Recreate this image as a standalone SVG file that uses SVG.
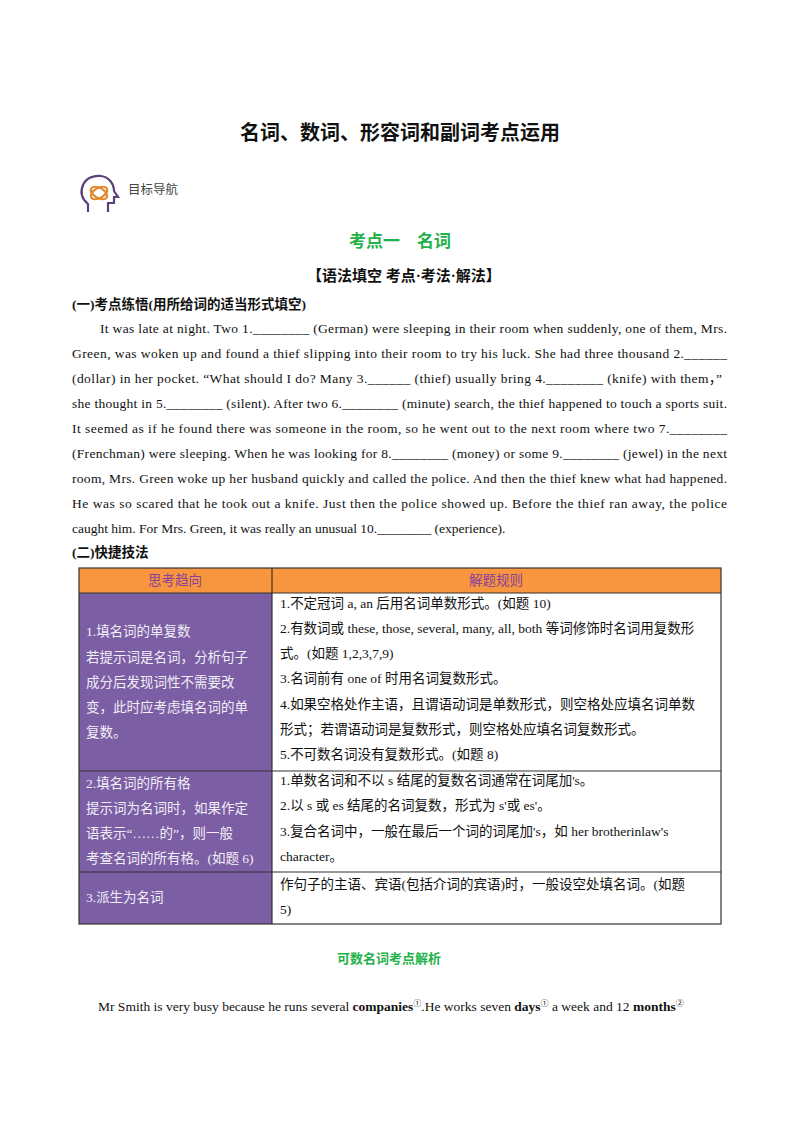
<svg xmlns="http://www.w3.org/2000/svg" width="800" height="1132" viewBox="0 0 800 1132">
<style>
.t{font-family:"Liberation Serif","Noto Sans CJK SC",serif;font-size:13.5px;fill:#111}
.w{font-family:"Liberation Serif","Noto Sans CJK SC",serif;font-size:13.5px;fill:#f2eef8}
.b{font-weight:bold}
.g{fill:#1fb24a;font-family:"Noto Sans CJK SC",sans-serif;font-weight:bold}
</style>
<rect width="800" height="1132" fill="#fff"/>
<text x="400" y="140" text-anchor="middle" font-family="Liberation Serif,Noto Sans CJK SC,serif" font-size="20" font-weight="bold" fill="#111">名词、数词、形容词和副词考点运用</text>
<g id="icon" fill="none" stroke="#5a3f78" stroke-width="2.2">
<path d="M88 212 v-8 c-6-5-8-12-5-19 c3-7 11-10 18-9 c8 1 13 8 13 15 l4 6 h-4 v6 h-6 v9"/>
<ellipse cx="99" cy="193" rx="9" ry="5" stroke="#e08a2e" transform="rotate(-30 99 193)"/>
<ellipse cx="99" cy="193" rx="9" ry="5" stroke="#e08a2e" transform="rotate(30 99 193)"/>
</g>
<text x="128" y="194" font-family="Noto Sans CJK SC,sans-serif" font-size="12.5" fill="#444">目标导航</text>
<text x="400" y="247" text-anchor="middle" class="g" font-size="17">考点一　名词</text>
<text x="404" y="281" text-anchor="middle" font-family="Liberation Serif,Noto Sans CJK SC,serif" font-size="15" font-weight="bold" fill="#111">【语法填空 考点·考法·解法】</text>
<text x="72" y="309" class="t b">(一)考点练悟(用所给词的适当形式填空)</text>
<g class="t">
<text x="100" y="333" textLength="627" lengthAdjust="spacing">It was late at night. Two 1.________ (German) were sleeping in their room when suddenly, one of them, Mrs.</text>
<text x="72" y="358" textLength="655" lengthAdjust="spacing">Green, was woken up and found a thief slipping into their room to try his luck. She had three thousand 2.______</text>
<text x="72" y="383" textLength="650" lengthAdjust="spacing">(dollar) in her pocket. “What should I do? Many 3.______ (thief) usually bring 4.________ (knife) with them，”</text>
<text x="72" y="408" textLength="655" lengthAdjust="spacing">she thought in 5.________ (silent). After two 6.________ (minute) search, the thief happened to touch a sports suit.</text>
<text x="72" y="433" textLength="655" lengthAdjust="spacing">It seemed as if he found there was someone in the room, so he went out to the next room where two 7.________</text>
<text x="72" y="458" textLength="655" lengthAdjust="spacing">(Frenchman) were sleeping. When he was looking for 8.________ (money) or some 9.________ (jewel) in the next</text>
<text x="72" y="483" textLength="655" lengthAdjust="spacing">room, Mrs. Green woke up her husband quickly and called the police. And then the thief knew what had happened.</text>
<text x="72" y="508" textLength="655" lengthAdjust="spacing">He was so scared that he took out a knife. Just then the police showed up. Before the thief ran away, the police</text>
<text x="72" y="533">caught him. For Mrs. Green, it was really an unusual 10.________ (experience).</text>
</g>
<text x="72" y="557" class="t b">(二)快捷技法</text>
<g id="table">
<rect x="79" y="568" width="642" height="25" fill="#f7963f"/>
<rect x="79" y="593" width="193" height="331" fill="#7b5ea3"/>
<g fill="none" stroke="#333" stroke-width="1.2">
<rect x="79" y="568" width="642" height="356"/>
<line x1="79" y1="593" x2="721" y2="593"/>
<line x1="79" y1="771" x2="721" y2="771"/>
<line x1="79" y1="872" x2="721" y2="872"/>
<line x1="272" y1="568" x2="272" y2="924"/>
</g>
<text x="175" y="585" text-anchor="middle" class="t" fill="#7b3a8c" style="fill:#8a3f9a">思考趋向</text>
<text x="496" y="585" text-anchor="middle" class="t" style="fill:#8a3f9a">解题规则</text>
<g class="w">
<text x="86" y="636">1.填名词的单复数</text>
<text x="86" y="662">若提示词是名词，分析句子</text>
<text x="86" y="687">成分后发现词性不需要改</text>
<text x="86" y="712">变，此时应考虑填名词的单</text>
<text x="86" y="737">复数。</text>
<text x="86" y="788">2.填名词的所有格</text>
<text x="86" y="813">提示词为名词时，如果作定</text>
<text x="86" y="838">语表示“……的”，则一般</text>
<text x="86" y="863">考查名词的所有格。(如题 6)</text>
<text x="86" y="902">3.派生为名词</text>
</g>
<g class="t">
<text x="280" y="608">1.不定冠词 a, an 后用名词单数形式。(如题 10)</text>
<text x="280" y="633">2.有数词或 these, those, several, many, all, both 等词修饰时名词用复数形</text>
<text x="280" y="658">式。(如题 1,2,3,7,9)</text>
<text x="280" y="683">3.名词前有 one of 时用名词复数形式。</text>
<text x="280" y="709">4.如果空格处作主语，且谓语动词是单数形式，则空格处应填名词单数</text>
<text x="280" y="734">形式；若谓语动词是复数形式，则空格处应填名词复数形式。</text>
<text x="280" y="759">5.不可数名词没有复数形式。(如题 8)</text>
<text x="280" y="785">1.单数名词和不以 s 结尾的复数名词通常在词尾加's。</text>
<text x="280" y="810">2.以 s 或 es 结尾的名词复数，形式为 s'或 es'。</text>
<text x="280" y="836">3.复合名词中，一般在最后一个词的词尾加's，如 her brotherinlaw's</text>
<text x="280" y="861">character。</text>
<text x="280" y="889">作句子的主语、宾语(包括介词的宾语)时，一般设空处填名词。(如题</text>
<text x="280" y="914">5)</text>
</g>
</g>
<text x="389" y="963" text-anchor="middle" class="g" font-size="13">可数名词考点解析</text>
<text x="98" y="1011" class="t">Mr Smith is very busy because he runs several  <tspan class="b">companies</tspan><tspan font-size="8" dy="-5">①</tspan><tspan dy="5">.He works seven  </tspan><tspan class="b">days</tspan><tspan font-size="8" dy="-5">①</tspan><tspan dy="5">  a week and 12  </tspan><tspan class="b">months</tspan><tspan font-size="8" dy="-5">②</tspan></text>
</svg>
